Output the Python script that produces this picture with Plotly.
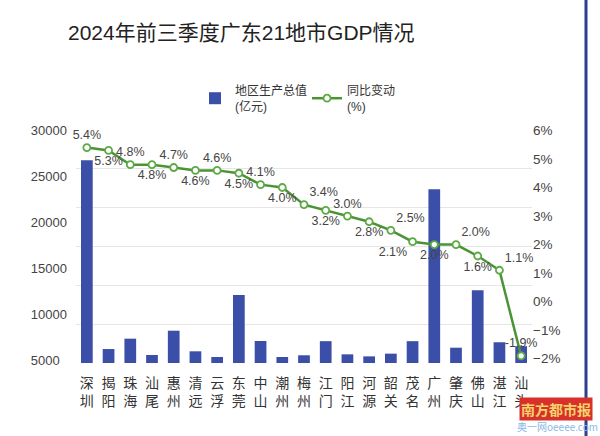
import plotly.graph_objects as go

# ---------------- data ----------------
cities = ["深圳", "揭阳", "珠海", "汕尾", "惠州", "清远", "云浮", "东莞", "中山", "潮州",
          "梅州", "江门", "阳江", "河源", "韶关", "茂名", "广州", "肇庆", "佛山", "湛江", "汕头"]
gdp = [26000, 1790, 3120, 1030, 4140, 1500, 770, 8720, 2820, 770,
       990, 2800, 1110, 850, 1200, 2800, 22260, 1960, 9320, 2660, 2150]
growth = [5.4, 5.3, 4.8, 4.8, 4.7, 4.6, 4.6, 4.5, 4.1, 4.0,
          3.4, 3.2, 3.0, 2.8, 2.5, 2.1, 2.0, 2.0, 1.6, 1.1, -1.9]
label_pos = ["top center", "bottom center", "top center", "bottom center", "top center",
             "bottom center", "top center", "bottom center", "top center", "bottom center",
             "top right", "bottom center", "top center", "bottom center", "top right",
             "bottom left", "bottom center", "top right", "bottom center", "top right",
             "top center"]
left_ticks = [5000, 10000, 15000, 20000, 25000, 30000]
left_text = ["5000\u00a0\u00a0", "10000", "15000", "20000", "25000", "30000"]
right_ticks = [-2, -1, 0, 1, 2, 3, 4, 5, 6]
right_text = ["\u22122%", "\u22121%", "0%", "1%", "2%", "3%", "4%", "5%", "6%"]

FONT = "Liberation Sans, Arial, Noto Sans CJK SC, sans-serif"
CJK = "Noto Sans CJK SC, sans-serif"

fig = go.Figure()
fig.add_bar(
    x=cities, y=gdp, name="地区生产总值<br>(亿元)", yaxis="y",
    marker=dict(color="#3c4fa8", line=dict(width=0)), width=0.54,
    hovertemplate="%{x}: %{y}<extra></extra>",
)
fig.add_scatter(
    x=cities, y=growth, yaxis="y2", name="同比变动<br>(%)",
    mode="lines+markers+text", cliponaxis=False,
    line=dict(color="#4c9336", width=2.5),
    marker=dict(symbol="circle", size=7, color="white", line=dict(color="#5caa46", width=1.8)),
    text=[f"{v:.1f}%" for v in growth], textposition=label_pos,
    textfont=dict(size=12.5, color="#454545"),
)
# carrier for the left label axis
fig.add_scatter(x=[cities[0]], y=[None], yaxis="y3", showlegend=False,
                hoverinfo="skip", mode="markers")

fig.update_layout(
    width=600, height=436,
    margin=dict(l=76, r=68, t=129, b=73),
    paper_bgcolor="white", plot_bgcolor="white",
    font=dict(family=FONT, color="#444"),
    title=dict(text="2024年前三季度广东21地市GDP情况", x=68 / 600, xref="container",
               xanchor="left", y=1 - 33 / 436, yref="container", yanchor="middle",
               font=dict(size=21, color="#222")),
    showlegend=True,
    legend=dict(orientation="h", x=0.261, xanchor="left", y=1.226, yanchor="top",
                font=dict(size=12, color="#333"), valign="middle",
                entrywidth=67, entrywidthmode="pixels",
                bgcolor="rgba(0,0,0,0)", traceorder="normal"),
    xaxis=dict(tickmode="array", tickvals=cities,
               ticktext=[c[0] + "<br>" + c[1] for c in cities],
               tickfont=dict(size=14, color="#333", family=CJK),
               showgrid=False, showline=False, ticks="", range=[-0.5, 20.5],
               ticklabelstandoff=10),
    yaxis=dict(range=[0, 30000], tickvals=[0, 5000, 10000, 15000, 20000, 25000, 30000],
               showticklabels=False, showgrid=True, gridcolor="#e6e6e6", gridwidth=1,
               zeroline=False, ticks=""),
    yaxis2=dict(overlaying="y", side="right", range=[-2.15, 6.05], tickmode="array",
                tickvals=right_ticks, ticktext=right_text, showgrid=False, zeroline=False,
                tickfont=dict(size=13.5, color="#444"), ticks="", ticklabelstandoff=0),
    yaxis3=dict(overlaying="y", side="left", range=[4674, 30109], tickmode="array",
                tickvals=left_ticks, ticktext=left_text, showgrid=False, zeroline=False,
                tickfont=dict(size=13, color="#444"), ticks="", ticklabelstandoff=8),
)

# right border line of the picture
fig.add_shape(type="line", xref="paper", yref="paper",
              x0=(586 - 76) / 456, x1=(586 - 76) / 456, y0=-73 / 234, y1=363 / 234,
              line=dict(color="#2d3f8f", width=3), layer="above")

# watermark
fig.add_annotation(text="<b>南方都市报</b>", xref="paper", yref="paper",
                   x=(556 - 76) / 456, y=(363 - 409) / 234, showarrow=False,
                   xanchor="center", yanchor="middle",
                   font=dict(size=14, color="#f3d36b", family=CJK),
                   bgcolor="#d8302a", borderpad=1)
fig.add_annotation(text="奥一网oeeee.com", xref="paper", yref="paper",
                   x=(557 - 76) / 456, y=(363 - 426) / 234, showarrow=False,
                   xanchor="center", yanchor="middle",
                   font=dict(size=10, color="#8bb8e6", family=CJK))

fig.write_html("out.html", config={"displayModeBar": False},
               post_script="document.body.style.margin='0';")
